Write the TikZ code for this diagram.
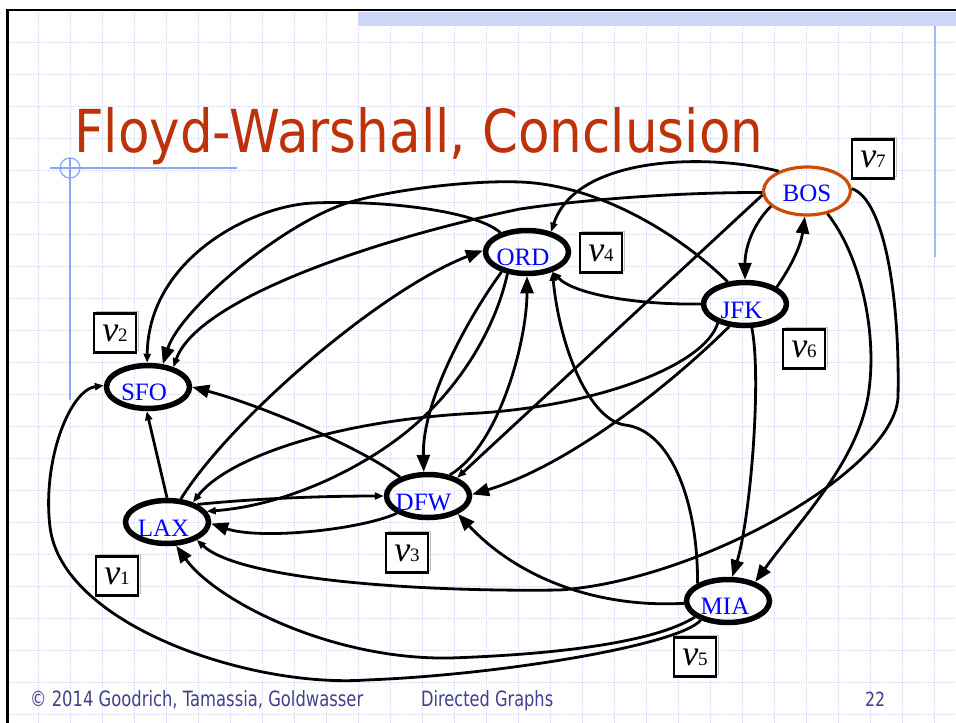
\documentclass[tikz,border=0pt]{standalone}
\usepackage{fontspec}
\setmainfont{Liberation Serif}
\newfontfamily\slidefont{DejaVu Sans}
\usepackage{graphicx}
\usetikzlibrary{arrows.meta,shapes.geometric}
\definecolor{titlered}{RGB}{190,50,10}
\definecolor{bosorange}{RGB}{205,75,5}
\definecolor{gridblue}{RGB}{212,221,250}
\definecolor{decoblue}{RGB}{140,165,240}
\definecolor{barblue}{RGB}{205,215,245}
\definecolor{footblue}{RGB}{64,64,140}
\definecolor{nodeblue}{RGB}{0,0,255}
\newcommand{\vlab}[1]{{\fontsize{36}{36}\selectfont\itshape v}{\fontsize{19}{19}\selectfont #1}}
\tikzset{
  gridline/.style={gridblue, line width=0.8pt, dash pattern=on 1.5pt off 1pt},
  city/.style={ellipse, draw=black, line width=5.5pt, minimum width=83pt, minimum height=43pt, inner sep=0pt},
  citytext/.style={text=nodeblue, font=\fontsize{25}{25}\selectfont, inner sep=0pt},
  vbox/.style={draw=black, line width=2.2pt, minimum width=42pt, minimum height=39pt, inner sep=0pt, fill=white},
  vshadow/.style={draw=black!25, line width=1.2pt, minimum width=42pt, minimum height=39pt, inner sep=0pt, xshift=2.5pt, yshift=2pt},
  edge/.style={line width=2.8pt, black},
  bigarrow/.style={edge, -{Triangle[length=17pt,width=13pt]}},
  smallarrow/.style={edge, -{Triangle[length=9pt,width=7pt]}},
  slidetext/.style={anchor=base west, inner sep=0pt, font=\slidefont},
}
\begin{document}
\begin{tikzpicture}[x=1pt, y=-1pt]
\useasboundingbox (0,0) rectangle (956,723);
\fill[white] (0,0) rectangle (956,723);
% grid
\foreach \gx in {38,70,...,934} \draw[gridline] (\gx,12) -- (\gx,723);
\foreach \gy in {42,74,...,714} \draw[gridline] (8,\gy) -- (956,\gy);
% decorations
\fill[barblue] (358,12) rectangle (956,26);
\draw[line width=2.5pt] (956,10) -- (7.5,10) -- (7.5,723);
\draw[decoblue!80, line width=2pt] (935,26) -- (935,257);
\draw[decoblue, line width=1.2pt] (50,168) -- (237,168);
\draw[decoblue, line width=1.2pt] (70,158) -- (70,400);
\draw[decoblue, line width=1.2pt] (70,168) circle[radius=10pt];
% title
\node[slidetext, text=titlered] (title) at (74,152) {\resizebox{689pt}{45pt}{Floyd-Warshall, Conclusion}};
% nodes
\node[city, label={[citytext, xshift=-4pt, yshift=-5pt]center:SFO}] (sfo) at (148,387) {};
\node[city, label={[citytext, xshift=-3.5pt, yshift=-6pt]center:LAX}] (lax) at (167,522) {};
\node[city, label={[citytext, xshift=-4.5pt, yshift=-6pt]center:DFW}] (dfw) at (428,496) {};
\node[city, label={[citytext, xshift=-4pt, yshift=-5pt]center:ORD}] (ord) at (527,252) {};
\node[city, label={[citytext, xshift=-3.5pt, yshift=-6pt]center:JFK}] (jfk) at (745,304) {};
\node[city, label={[citytext, xshift=-3pt, yshift=-5pt]center:MIA}] (mia) at (728,601) {};
\node[city, draw=bosorange, line width=3.2pt, minimum width=87pt, minimum height=48pt,
      label={[citytext, xshift=0pt, yshift=-2pt]center:BOS}] (bos) at (807,191) {};
% edges
\draw[smallarrow] (bos.145) .. controls (700,152) and (575,158) .. (ord.40);
\draw[smallarrow] (bos.182) .. controls (680,192) and (580,200) .. (520,209)
   .. controls (380,238) and (198,298) .. (sfo.38);
\draw[smallarrow] (ord.144) .. controls (475,210) and (380,200) .. (313,203)
   .. controls (250,206) and (148,260) .. (sfo.92);
\draw[bigarrow] (jfk.128) .. controls (680,235) and (600,185) .. (520,182)
   .. controls (470,180) and (390,190) .. (347,203)
   .. controls (280,225) and (180,310) .. (sfo.57);
\draw[smallarrow] (lax.90) -- (sfo.-93);
\draw[smallarrow] (mia.215) .. controls (680,645) and (500,675) .. (366,680)
   .. controls (250,688) and (62,625) .. (50,527)
   .. controls (42,460) and (70,390) .. (sfo.178);
\draw[bigarrow] (dfw.146) .. controls (360,447) and (260,405) .. (sfo.0);
\draw[bigarrow] (lax.59) .. controls (230,420) and (380,290) .. (ord.178);
\draw[smallarrow] (jfk.180) .. controls (640,305) and (575,295) .. (ord.-38);
\draw[smallarrow] (mia.150) .. controls (698,500) and (670,430) .. (625,425)
   .. controls (590,420) and (560,350) .. (ord.-38);
\draw[bigarrow] (ord.218) .. controls (470,315) and (422,400) .. (dfw.100);
\draw[smallarrow] (ord.228) .. controls (495,330) and (460,385) .. (417,423)
   .. controls (370,465) and (290,505) .. (lax.15);
\draw[bigarrow] (dfw.44) .. controls (500,445) and (527,340) .. (ord.-90);
\draw[smallarrow] (bos.185) -- (dfw.32);
\draw[bigarrow] (jfk.235) .. controls (670,385) and (570,465) .. (dfw.2);
\draw[smallarrow] (jfk.215) .. controls (705,365) and (600,405) .. (480,413)
   .. controls (330,420) and (225,460) .. (lax.37);
\draw[bigarrow] (jfk.-74) .. controls (762,380) and (750,520) .. (mia.80);
\draw[bigarrow] (bos.-48) .. controls (860,255) and (877,330) .. (869,390)
   .. controls (860,460) and (800,520) .. (mia.35);
\draw[bigarrow] (bos.203) .. controls (755,222) and (745,245) .. (jfk.90);
\draw[bigarrow] (jfk.28) .. controls (792,265) and (801,245) .. (bos.-95);
\draw[smallarrow] (bos.3) .. controls (885,200) and (900,300) .. (898,397)
   .. controls (895,470) and (700,580) .. (560,590)
   .. controls (420,592) and (240,580) .. (lax.-31);
\draw[bigarrow] (mia.183) .. controls (600,608) and (520,580) .. (dfw.-31);
\draw[bigarrow] (dfw.209) .. controls (360,530) and (260,540) .. (lax.-2);
\draw[smallarrow] (lax.30) .. controls (260,498) and (330,496) .. (dfw.180);
\draw[bigarrow] (mia.206) .. controls (650,645) and (540,655) .. (450,658)
   .. controls (330,660) and (215,600) .. (lax.-69);
% vertex labels (faint offset outline, then the box)
\foreach \nm/\px/\py in {s1/117/576, s2/115/333, s3/407/553, s4/601/253, s5/695/657, s6/804/349, s7/873/159}
  \node[vshadow] (\nm) at (\px,\py) {};
\node[vbox] (v1) at (117,576) {\vlab{1}};
\node[vbox] (v2) at (115,333) {\vlab{2}};
\node[vbox] (v3) at (407,553) {\vlab{3}};
\node[vbox] (v4) at (601,253) {\vlab{4}};
\node[vbox] (v5) at (695,657) {\vlab{5}};
\node[vbox] (v6) at (804,349) {\vlab{6}};
\node[vbox] (v7) at (873,159) {\vlab{7}};
% footer
\node[slidetext, text=footblue] (copy) at (30,706) {\resizebox{333pt}{16pt}{© 2014 Goodrich, Tamassia, Goldwasser}};
\node[slidetext, text=footblue] (topic) at (421,706) {\resizebox{132pt}{16pt}{Directed Graphs}};
\node[slidetext, text=footblue] (page) at (865,706) {\resizebox{20pt}{14.5pt}{22}};
\end{tikzpicture}
\end{document}
